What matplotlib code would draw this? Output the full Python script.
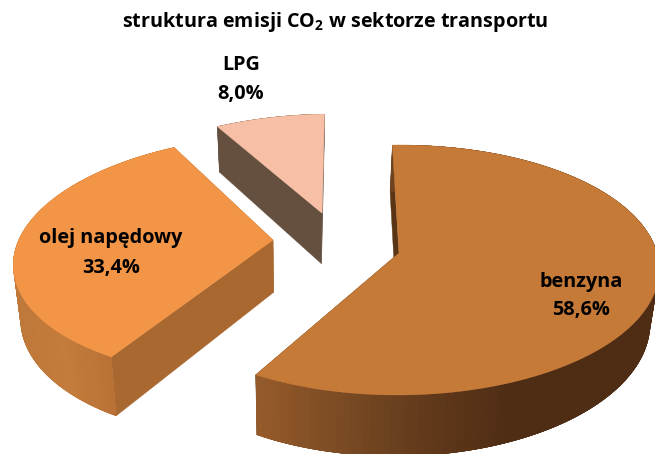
"""
3D exploded pie: struktura emisji CO2 w sektorze transportu
"""
import numpy as np
import matplotlib
matplotlib.use("Agg")
import matplotlib.pyplot as plt
from matplotlib.patches import Polygon
from matplotlib.colors import to_rgb

plt.rcParams['font.family'] = ['Open Sans', 'DejaVu Sans']
plt.rcParams['mathtext.fontset'] = 'custom'
plt.rcParams['mathtext.bf'] = 'Open Sans:bold'
plt.rcParams['mathtext.rm'] = 'Open Sans:bold'

# data
categories = ["benzyna", "olej napędowy", "LPG"]
shares = [58.6, 33.4, 8.0]
share_labels = ["58,6%", "33,4%", "8,0%"]
title = r"struktura emisji CO$_{\mathbf{2}}$ w sektorze transportu"

# style per slice
top_colors = ["#C67A38", "#F39546", "#F7C0A6"]
inner_colors = ["#5A3515", "#A86830", "#65503F"]
wall_x = [[256, 340, 430, 520, 655], [12, 60, 110], [218, 325]]
wall_colors = [["#9A5C2B", "#7F4E25", "#653C1C", "#4F2D15", "#4F2D15"],
               ["#BE7839", "#C47C3C", "#B87035"],
               ["#65503F", "#65503F"]]
# pie layout: slice offset in px (x) and depth units (y), small turn in degrees
offset_x = [-11, -139, -92]
offset_y = [0.0, 0.107, 0.34]
turn = [-2, -1, -2]
label_pos = [(581, 296), (111, 253), (241, 79)]

# camera
R = 258
K = 0.136
HORIZON = -649
A = 902
WALL = 53
VX = 410


def project(x, y, bottom=False):
    s = 1 / (1 + K * y)
    sx = VX + s * x
    sy = HORIZON + s * (A + (WALL if bottom else 0))
    if bottom:
        sx = 300 + (sx - 300) * 0.975
    return np.column_stack([sx, sy])


fig = plt.figure(figsize=(6.55, 4.54), dpi=100)
ax = fig.add_axes([0, 0, 1, 1])
ax.set_xlim(0, 655)
ax.set_ylim(454, 0)
ax.axis('off')

edges = 3.6 * np.concatenate([[0], np.cumsum(shares)])

# rysujemy od tyłu: LPG, benzyna, olej
for i in [2, 0, 1]:
    t = np.radians(np.linspace(edges[i] + turn[i], edges[i + 1] + turn[i], 160))
    x = offset_x[i] + R * np.sin(t)
    y = offset_y[i] + np.cos(t)
    ax0 = np.array([offset_x[i]])
    ay0 = np.array([offset_y[i]])

    top_arc = project(x, y)
    bot_arc = project(x, y, True)
    apex_top = project(ax0, ay0)
    apex_bot = project(ax0, ay0, True)

    # wewnętrzne ściany
    for j in [0, -1]:
        quad = np.vstack([apex_top, top_arc[j], bot_arc[j], apex_bot])
        ax.add_patch(Polygon(quad, closed=True, fc=inner_colors[i],
                             ec=inner_colors[i], lw=0.3))

    # ściana zewnętrzna z gradientem, paski zachodzą na siebie
    stops = np.array([to_rgb(c) for c in wall_colors[i]])
    n = len(t)
    order = range(n - 1) if i == 1 else range(n - 2, -1, -1)
    for k in order:
        a, b = max(k - 2, 0), min(k + 3, n - 1)
        quad = np.vstack([top_arc[a:b + 1], bot_arc[a:b + 1][::-1]])
        xm = top_arc[k:k + 2, 0].mean()
        col = [np.interp(xm, wall_x[i], stops[:, c]) for c in range(3)]
        ax.add_patch(Polygon(quad, closed=True, fc=col, ec='none'))

    # wierzch
    ax.add_patch(Polygon(np.vstack([apex_top, top_arc]), closed=True,
                         fc=top_colors[i], ec=top_colors[i], lw=0.3))

ax.text(335, 22, title, fontsize=14.2, fontweight='bold', ha='center', va='center')
for name, val, (lx, ly) in zip(categories, share_labels, label_pos):
    ax.text(lx, ly - 14.5, name, fontsize=14.3, fontweight='bold', ha='center', va='center')
    ax.text(lx, ly + 14.5, val, fontsize=14.3, fontweight='bold', ha='center', va='center')

fig.savefig('out.png', dpi=100)
